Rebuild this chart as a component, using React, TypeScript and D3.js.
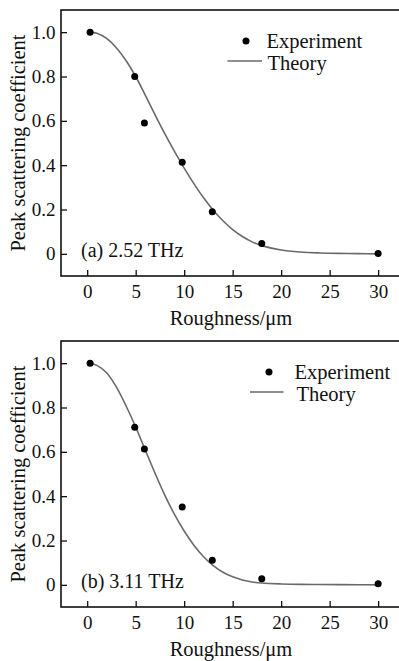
import { useEffect, useRef } from 'react';
import * as d3 from 'd3';

// Measured points (Roughness in um, peak scattering coefficient)
const expRoughness = [0.3, 4.9, 5.9, 9.8, 12.9, 18.0, 30.0];
const expA = [1.0, 0.80, 0.59, 0.413, 0.19, 0.047, 0.002];
const expB = [1.0, 0.711, 0.613, 0.351, 0.111, 0.027, 0.005];

// Theory curves
const theoryRoughness = [0.3, 1, 2, 3, 4, 5, 6, 7, 8, 9, 10, 11, 12, 13, 14, 15, 16, 17, 18, 20, 22, 24, 26, 28, 30];
const theoryA = [1.0, 0.995, 0.972, 0.93, 0.872, 0.80, 0.715, 0.627, 0.542, 0.462, 0.387, 0.317, 0.253, 0.197, 0.149, 0.109, 0.078, 0.054, 0.037, 0.017, 0.008, 0.004, 0.002, 0.001, 0.0];
const theoryB = [1.0, 0.99, 0.957, 0.893, 0.808, 0.712, 0.607, 0.503, 0.405, 0.318, 0.243, 0.179, 0.127, 0.087, 0.057, 0.036, 0.022, 0.013, 0.008, 0.004, 0.002, 0.0015, 0.001, 0.0005, 0.0];

const xTicks = [0, 5, 10, 15, 20, 25, 30];
const yTicks = [0, 0.2, 0.4, 0.6, 0.8, 1.0];

const panelLabels = ['(a) 2.52 THz', '(b) 3.11 THz'];
const legendLabels = ['Experiment', 'Theory'];

const FONT = '"Liberation Serif", "Times New Roman", serif';

export default function App() {
  const svgRef = useRef<SVGSVGElement>(null);

  useEffect(() => {
    if (!svgRef.current) return;
    const svg = d3.select(svgRef.current);
    svg.selectAll('*').remove();

    const panels = [
      { top: 10, bottom: 276, exp: expA, theory: theoryA, label: panelLabels[0], lx1: 227.5, lx2: 262, dotX: 246, expX: 266.5, thX: 267.5 },
      { top: 341, bottom: 607, exp: expB, theory: theoryB, label: panelLabels[1], lx1: 250, lx2: 283.5, dotX: 269, expX: 294.5, thX: 296.5 }
    ];

    const xScale = d3.scaleLinear().domain([-2.7, 32.15]).range([61, 399]);

    panels.forEach(p => {
      const yScale = d3.scaleLinear().domain([-0.1, 1.1]).range([p.bottom, p.top]);
      const g = svg.append('g');

      // frame
      g.append('rect')
        .attr('x', 61)
        .attr('y', p.top)
        .attr('width', 340)
        .attr('height', p.bottom - p.top)
        .attr('fill', 'none')
        .attr('stroke', '#111')
        .attr('stroke-width', 1.6);

      // x axis (ticks inward)
      const xAxis = d3.axisBottom(xScale).tickValues(xTicks).tickSize(-6).tickPadding(8.5).tickFormat(d => `${d}`);
      const xg = g.append('g').attr('transform', `translate(0,${p.bottom})`).call(xAxis);
      xg.select('.domain').remove();
      xg.selectAll('line').attr('stroke', '#111').attr('stroke-width', 1.3);
      xg.selectAll('text').attr('font-family', FONT).attr('font-size', 19).attr('fill', '#111');

      // y axis (ticks inward)
      const yAxis = d3.axisLeft(yScale).tickValues(yTicks).tickSize(-6).tickPadding(5.5)
        .tickFormat(d => (Number(d) === 0 ? '0' : d3.format('.1f')(Number(d))));
      const yg = g.append('g').attr('transform', 'translate(61,0)').call(yAxis);
      yg.select('.domain').remove();
      yg.selectAll('line').attr('stroke', '#111').attr('stroke-width', 1.3);
      yg.selectAll('text').attr('font-family', FONT).attr('font-size', 19).attr('fill', '#111');

      // theory line
      const line = d3.line<number>()
        .x((_, i) => xScale(theoryRoughness[i]))
        .y(d => yScale(d))
        .curve(d3.curveCatmullRom);
      g.append('path')
        .datum(p.theory)
        .attr('d', line)
        .attr('fill', 'none')
        .attr('stroke', '#6a6a6a')
        .attr('stroke-width', 1.6);

      // experiment dots
      g.selectAll('circle.pt')
        .data(p.exp)
        .enter()
        .append('circle')
        .attr('class', 'pt')
        .attr('cx', (_, i) => xScale(expRoughness[i]))
        .attr('cy', d => yScale(d))
        .attr('r', 3.5)
        .attr('fill', '#000');

      // panel label
      g.append('text')
        .attr('x', 81)
        .attr('y', yScale(0) + 3)
        .attr('font-family', FONT)
        .attr('font-size', 20)
        .attr('fill', '#111')
        .text(p.label);

      // legend
      g.append('circle').attr('cx', p.dotX).attr('cy', p.top + 31).attr('r', 3.5).attr('fill', '#000');
      g.append('text')
        .attr('x', p.expX)
        .attr('y', p.top + 38)
        .attr('font-family', FONT)
        .attr('font-size', 20.5)
        .attr('fill', '#111')
        .text(legendLabels[0]);
      g.append('line')
        .attr('x1', p.lx1)
        .attr('x2', p.lx2)
        .attr('y1', p.top + 51)
        .attr('y2', p.top + 51)
        .attr('stroke', '#6a6a6a')
        .attr('stroke-width', 1.6);
      g.append('text')
        .attr('x', p.thX)
        .attr('y', p.top + 59.5)
        .attr('font-family', FONT)
        .attr('font-size', 20.5)
        .attr('fill', '#111')
        .text(legendLabels[1]);

      // axis titles
      g.append('text')
        .attr('x', 231)
        .attr('y', p.bottom + 49)
        .attr('text-anchor', 'middle')
        .attr('font-family', FONT)
        .attr('font-size', 20.5)
        .attr('fill', '#111')
        .text('Roughness/\u03bcm');

      g.append('text')
        .attr('transform', `translate(25,${(p.top + p.bottom) / 2}) rotate(-90)`)
        .attr('text-anchor', 'middle')
        .attr('font-family', FONT)
        .attr('font-size', 20.5)
        .attr('fill', '#111')
        .text('Peak scattering coefficient');
    });
  }, []);

  return (
    <svg
      ref={svgRef}
      width={399}
      height={661}
      style={{ position: 'absolute', left: 0, top: 0, background: '#fff' }}
    />
  );
}
